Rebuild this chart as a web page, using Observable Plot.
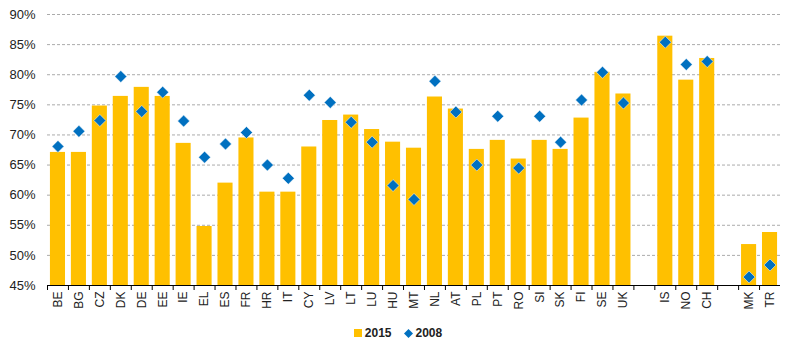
<!DOCTYPE html>
<html><head><meta charset="utf-8">
<script src="https://cdn.jsdelivr.net/npm/d3@7"></script>
<script src="https://cdn.jsdelivr.net/npm/@observablehq/plot@0.6"></script>
<style>
body{margin:0;background:#fff;font-family:Arial,"Liberation Sans",sans-serif;}
#legend{height:30px;display:flex;justify-content:center;align-items:center;font-weight:bold;font-size:12px;color:#222;gap:0;}
#legend .item{display:flex;align-items:center;margin:0 6px;}
#legend svg{margin-right:3px;}
</style></head><body>
<div id="chart"></div>
<div id="legend">
  <span class="item"><svg width="8" height="8"><rect width="8" height="8" fill="#FFC000"/></svg>2015</span>
  <span class="item"><svg width="9" height="9"><path d="M4.5 0L9 4.5L4.5 9L0 4.5Z" fill="#0070C0"/></svg>2008</span>
</div>
<script>
const euCountries = ["BE","BG","CZ","DK","DE","EE","IE","EL","ES","FR","HR","IT","CY","LV","LT","LU","HU","MT","NL","AT","PL","PT","RO","SI","SK","FI","SE","UK"];
const eftaCountries = ["IS","NO","CH"];
const candidateCountries = ["MK","TR"];
const values2015 = [67.1,67.1,74.8,76.4,77.9,76.4,68.6,54.8,62.0,69.5,60.5,60.5,68.0,72.4,73.3,70.9,68.8,67.8,76.3,74.3,67.6,69.1,66.0,69.1,67.6,72.8,80.4,76.8, 86.4,79.1,82.7, 51.8,53.8];
const values2008 = [68.1,70.6,72.4,79.7,73.9,77.1,72.3,66.3,68.5,70.4,65.0,62.8,76.6,75.4,72.1,68.8,61.6,59.3,78.9,73.8,65.0,73.1,64.5,73.1,68.8,75.8,80.4,75.3, 85.4,81.7,82.2, 46.4,48.4];
const yTicks = [45,50,55,60,65,70,75,80,85,90];
const yMin = 45, yMax = 90;

const countries = [...euCountries, ...eftaCountries, ...candidateCountries];
const data = countries.map((c, i) => ({country: c, v2015: values2015[i], v2008: values2008[i]}));
const domain = [...euCountries, "gap1", ...eftaCountries, "gap2", ...candidateCountries];

const width = 796, height = 318, mL = 47, mR = 16;
const step = (width - mL - mR) / domain.length;

const chart = Plot.plot({
  width, height,
  marginLeft: mL, marginRight: mR, marginTop: 14, marginBottom: 33,
  style: {fontFamily: "Arial, 'Liberation Sans', sans-serif", fontSize: "12px", color: "#222", background: "#fff"},
  x: {domain, paddingInner: 0.28, paddingOuter: 0.14, label: null},
  y: {domain: [yMin, yMax], label: null},
  marks: [
    Plot.gridY(yTicks.filter(d => d > yMin), {stroke: "#ababab", strokeOpacity: 1, strokeDasharray: "3 2"}),
    Plot.axisY(yTicks, {tickSize: 0, tickPadding: 12, tickFormat: d => d + "%", fontSize: 13, fill: "#222"}),
    Plot.barY(data, {x: "country", y1: yMin, y2: "v2015", fill: "#FFC000"}),
    Plot.ruleY([yMin], {stroke: "#000", strokeWidth: 1}),
    Plot.axisX({tickSize: 5, tickFormat: () => "", dx: -step / 2, stroke: "#000"}),
    Plot.axisX({tickSize: 0, tickPadding: 6, tickRotate: -90, tickFormat: d => d.startsWith("gap") ? "" : d, fontSize: 12, fill: "#222"}),
    Plot.dot(data, {x: "country", y: "v2008", symbol: "diamond2", r: 5.4, fill: "#0070C0", stroke: "#fff", strokeWidth: 0.5})
  ]
});
document.getElementById("chart").appendChild(chart);
</script>
</body></html>
